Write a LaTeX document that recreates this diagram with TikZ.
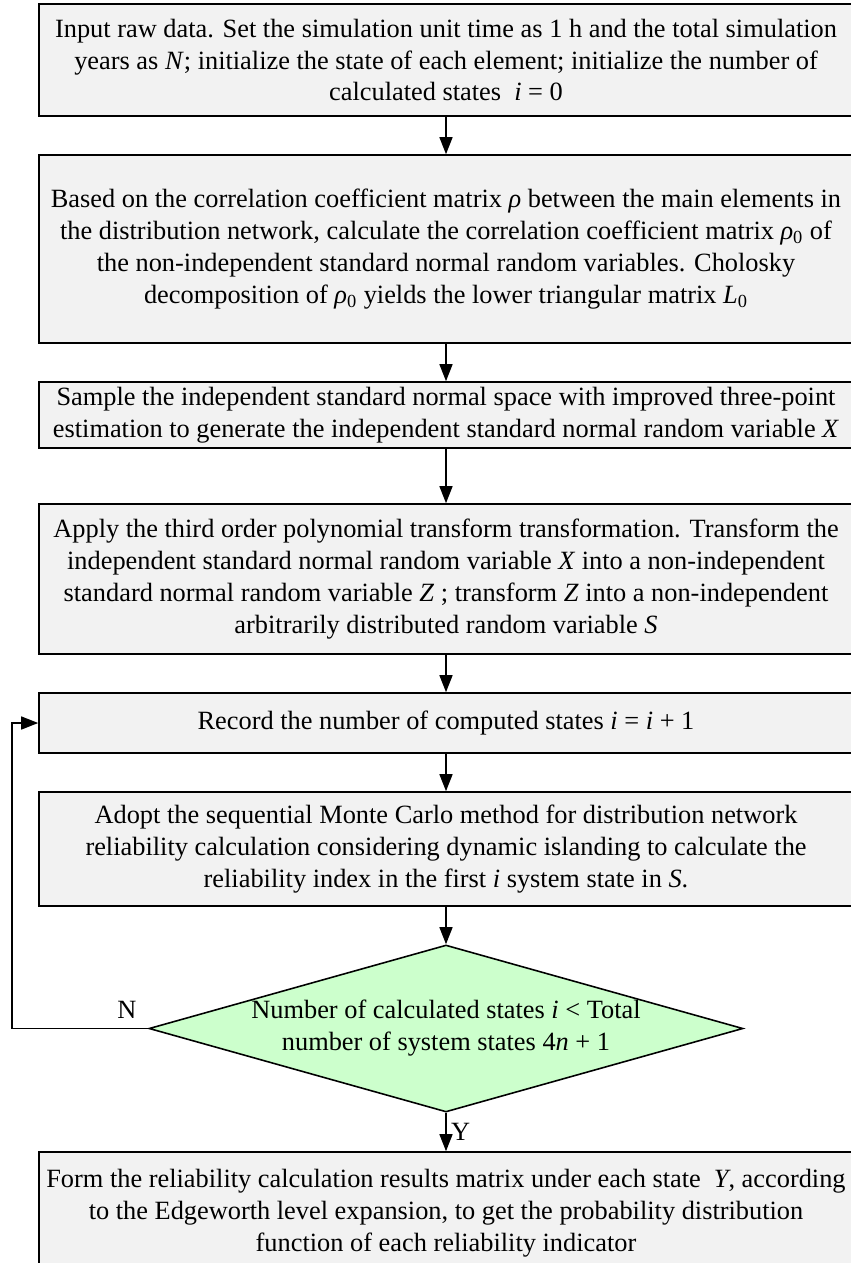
\documentclass[tikz,border=0pt]{standalone}
\usepackage{fontspec}
\setmainfont{Liberation Serif}
\usetikzlibrary{arrows.meta,shapes.geometric}
\definecolor{boxgray}{RGB}{242,242,242}
\definecolor{checkgreen}{RGB}{204,255,204}

\begin{document}
\begin{tikzpicture}[
        every node/.append style = {font = \fontsize{15}{18.2}\selectfont, align = center},
        stepbox/.style = {draw, line width = 0.9pt, fill = boxgray, minimum width = 16.28cm, inner sep = 0pt},
        checkbox/.style = {draw, diamond, aspect = 3.56, line width = 0.9pt, fill = checkgreen, minimum width = 11.88cm, minimum height = 3.34cm, inner sep = 0pt},
        flow/.style = {-{Triangle[length = 0.34cm, width = 0.26cm]}, line width = 0.8pt}
    ]
    \useasboundingbox (0,0) rectangle (17,-25.26);
    % the steps
    \node[stepbox, minimum height = 2.24cm] (input) at (8.92,-1.2) {Input raw data. Set the simulation unit time as 1 h and the total simulation\\ years as \textit{N}; initialize the state of each element; initialize the number of\\ calculated states \ \textit{i} = 0};
    \node[stepbox, minimum height = 3.76cm] (corr) at (8.92,-4.98) {Based on the correlation coefficient matrix \textit{ρ} between the main elements in\\ the distribution network, calculate the correlation coefficient matrix \textit{ρ}\textsubscript{0} of\\ the non-independent standard normal random variables. Cholosky\\ decomposition of \textit{ρ}\textsubscript{0} yields the lower triangular matrix \textit{L}\textsubscript{0}};
    \node[stepbox, minimum height = 1.32cm] (sample) at (8.92,-8.3) {Sample the independent standard normal space with improved three-point\\ estimation to generate the independent standard normal random variable \textit{X}};
    \node[stepbox, minimum height = 3cm] (transform) at (8.92,-11.58) {Apply the third order polynomial transform transformation. Transform the\\ independent standard normal random variable \textit{X} into a non-independent\\ standard normal random variable \textit{Z} ; transform \textit{Z} into a non-independent\\ arbitrarily distributed random variable \textit{S}};
    \node[stepbox, minimum height = 1.2cm] (record) at (8.92,-14.46) {Record the number of computed states \textit{i} = \textit{i} + 1};
    \node[stepbox, minimum height = 2.28cm] (montecarlo) at (8.92,-16.98) {Adopt the sequential Monte Carlo method for distribution network\\ reliability calculation considering dynamic islanding to calculate the\\ reliability index in the first \textit{i} system state in \textit{S}.};
    \node[checkbox] (check) at (8.92,-20.57) {Number of calculated states \textit{i} < Total\\ number of system states 4\textit{n} + 1};
    \node[stepbox, minimum height = 2.46cm] (result) at (8.92,-24.27) {Form the reliability calculation results matrix under each state \ \textit{Y}, according\\ to the Edgeworth level expansion, to get the probability distribution\\ function of each reliability indicator};
    % connectors
    \draw[flow] (input) -- (corr);
    \draw[flow] (corr) -- (sample);
    \draw[flow] (sample) -- (transform);
    \draw[flow] (transform) -- (record);
    \draw[flow] (record) -- (montecarlo);
    \draw[flow] (montecarlo) -- (check);
    \draw[flow] (check) -- node[right, inner sep = 2.5pt] (yes) {Y} (result);
    \coordinate (loop) at (0.24,-20.57);
    \draw[flow] (check.west) -- (loop) |- (record.west);
    \node (no) at (2.54,-20.2) {N};
\end{tikzpicture}
\end{document}
